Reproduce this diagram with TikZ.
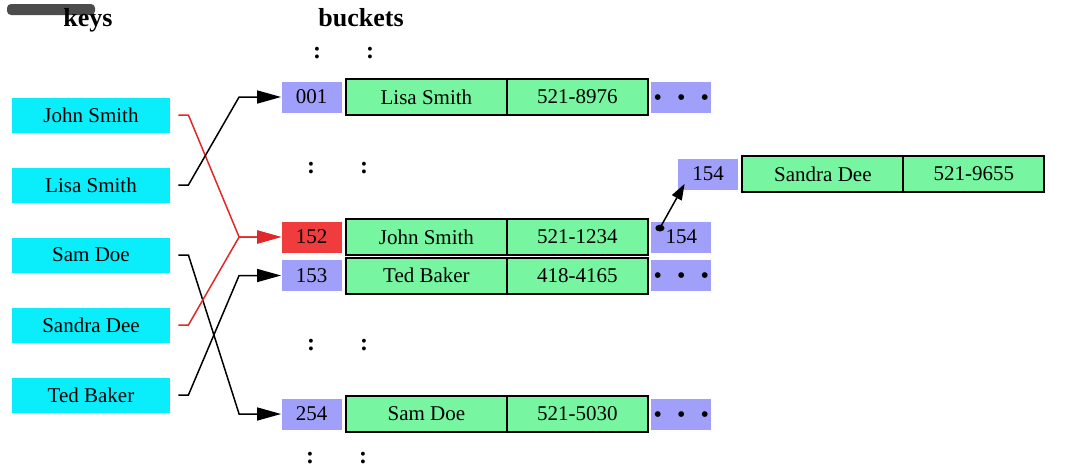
\documentclass[tikz,border=0pt]{standalone}
\usepackage{fontspec}
\setmainfont{Liberation Serif}
\usetikzlibrary{arrows.meta,positioning,calc}

\definecolor{keycyan}{RGB}{10,238,252}
\definecolor{idxblue}{RGB}{160,160,250}
\definecolor{hitred}{RGB}{240,60,60}
\definecolor{recgreen}{RGB}{120,245,160}
\definecolor{linkred}{RGB}{225,40,40}

\newcommand{\moredots}{{\fontsize{12}{12}\selectfont\setbox0\hbox{\textbullet}%
  \rule{0pt}{\dimexpr\ht0+3pt\relax}\textbullet\hspace{7.5pt}\textbullet\hspace{7.5pt}\textbullet}}

\begin{document}
\begin{tikzpicture}[
  x=0.5pt, y=-0.5pt,
  every node/.style = {font=\fontsize{10.5}{12}\selectfont, inner sep=0pt},
  keybox/.style = {fill=keycyan, minimum width=79pt, minimum height=17.5pt},
  idx/.style    = {fill=idxblue, minimum width=30pt, minimum height=15.5pt},
  hit/.style    = {idx, fill=hitred},
  cell/.style   = {draw, fill=recgreen, line width=1pt, outer sep=0pt, minimum width=80.5pt, minimum height=18pt},
  phone/.style  = {cell, minimum width=70.5pt},
  arr/.style    = {line width=0.75pt, -{Triangle[length=12pt,width=6.5pt]}},
  title/.style  = {font=\bfseries\fontsize{13}{15}\selectfont},
  gap/.style    = {font=\bfseries\fontsize{12}{14}\selectfont},
]
\useasboundingbox (0,0) rectangle (1080,466);
\fill[gray!60!black, rounded corners=2pt] (7,4) rectangle (95,15);

% headings
\node[title] (keys) at (88,20) {keys};
\node[title] (buckets) at (361,18) {buckets};

% keys
\node[keybox] (john)   at (91,115) {John Smith};
\node[keybox] (lisa)   at (91,185) {Lisa Smith};
\node[keybox] (sam)    at (91,255) {Sam Doe};
\node[keybox] (sandra) at (91,325) {Sandra Dee};
\node[keybox] (ted)    at (91,395) {Ted Baker};

% buckets
\node[idx] (i001) at (311.5,97) {001};
\node[cell,  right=2pt of i001] (n001) {Lisa Smith};
\node[phone, right=0pt of n001] (p001) {521-8976};
\node[idx,   right=1.5pt of p001] (m001) {\moredots};

\node[hit] (i152) at (311.5,237) {152};
\node[cell,  right=2pt of i152] (n152) {John Smith};
\node[phone, right=0pt of n152] (p152) {521-1234};
\node[idx,   right=1.5pt of p152] (i154) {154};

\node[idx] (i153) at (311.5,275.5) {153};
\node[cell,  right=2pt of i153] (n153) {Ted Baker};
\node[phone, right=0pt of n153] (p153) {418-4165};
\node[idx,   right=1.5pt of p153] (m153) {\moredots};

\node[idx] (i254) at (311.5,414) {254};
\node[cell,  right=2pt of i254] (n254) {Sam Doe};
\node[phone, right=0pt of n254] (p254) {521-5030};
\node[idx,   right=1.5pt of p254] (m254) {\moredots};

% overflow entry
\node[idx] (j154) at (708,174) {154};
\node[cell,  right=2pt of j154] (n154) {Sandra Dee};
\node[phone, right=0pt of n154] (p154) {521-9655};

% elided rows
\foreach \cy/\cx in {53/317, 168/311, 345/311, 458/310} {
  \node[gap] (ca\cy) at (\cx,\cy) {:};
  \node[gap] (cb\cy) at (\cx+53,\cy) {:};
}

% hashing
\draw[arr, linkred] ([xshift=4pt]john.east)   -- ++(5pt,0) -- ([xshift=-21pt]i152.west) -- (i152.west);
\draw[arr]          ([xshift=4pt]lisa.east)   -- ++(5pt,0) -- ([xshift=-21pt]i001.west) -- (i001.west);
\draw[arr]          ([xshift=4pt]sam.east)    -- ++(5pt,0) -- ([xshift=-21pt]i254.west) -- (i254.west);
\draw[arr, linkred] ([xshift=4pt]sandra.east) -- ++(5pt,0) -- ([xshift=-21pt]i152.west) -- (i152.west);
\draw[arr]          ([xshift=4pt]ted.east)    -- ++(5pt,0) -- ([xshift=-21pt]i153.west) -- (i153.west);

% chaining
\coordinate (ptr) at ([shift={(4.5pt,-3.5pt)}]i154.north west);
\fill (ptr) ellipse [x radius=2.3pt, y radius=1.7pt];
\draw[line width=0.75pt, -{Triangle[length=8pt,width=5.5pt]}] (ptr) -- ([shift={(3.5pt,3pt)}]j154.south west);
\end{tikzpicture}
\end{document}
